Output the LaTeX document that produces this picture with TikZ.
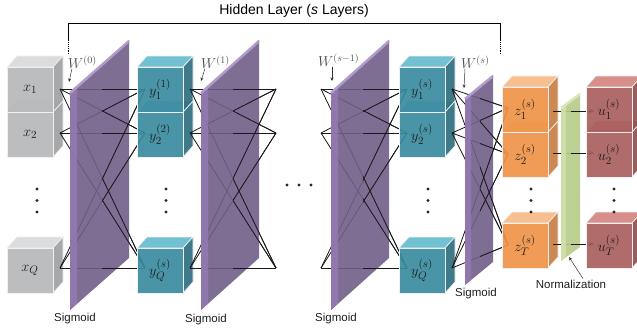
\documentclass[tikz,border=0pt]{standalone}
\usepackage{fontspec}
\setmainfont{Liberation Sans}
\usetikzlibrary{arrows.meta}
\definecolor{grayfront}{HTML}{B6B7B9}
\definecolor{graytop}{HTML}{D8D9DB}
\definecolor{grayside}{HTML}{A0A1A3}
\definecolor{tealfront}{HTML}{3B8BA0}
\definecolor{tealtop}{HTML}{66BCCF}
\definecolor{tealside}{HTML}{2E6F80}
\definecolor{orgfront}{HTML}{EF9448}
\definecolor{orgtop}{HTML}{F8BB86}
\definecolor{orgside}{HTML}{C97F44}
\definecolor{redfront}{HTML}{A95F5E}
\definecolor{redtop}{HTML}{D5847F}
\definecolor{redside}{HTML}{8F4F4E}
\definecolor{purmain}{HTML}{715E88}
\definecolor{purstrip}{HTML}{9279B0}
\definecolor{purtop}{HTML}{B5A0CF}
\definecolor{grnmain}{HTML}{B6CB88}
\definecolor{grnstrip}{HTML}{D0E1A9}
\definecolor{grntop}{HTML}{DDE9C2}
\definecolor{txt}{HTML}{1E1E1E}
\tikzset{
  cubeedge/.style={draw=white!88!gray, line width=0.7pt, fill opacity=0.92},
  conn/.style={draw=black!90, line width=0.8pt},
  panelface/.style={fill opacity=0.9},
  lbl/.style={text=txt, font=\fontsize{15}{17}\selectfont, inner sep=0pt},
  wlbl/.style={text=black!70, font=\fontsize{14}{16}\selectfont, inner sep=0pt, anchor=west},
  capt/.style={text=txt, font=\fontsize{11.5}{13}\selectfont, inner sep=0pt},
  warrow/.style={-{Stealth[length=3.5pt,width=3pt]}, line width=0.5pt, black!80},
  vdot/.style={circle, fill=black!85, inner sep=0pt, minimum size=3.4pt},
  normarrow/.style={-{Stealth[length=5pt,width=4pt]}, line width=0.8pt, black!90},
}
\newcommand\mkcube[3]{%
  \filldraw[cubeedge, fill=#3top] (#1,#2) -- (#1+10,#2-11) -- (#1+56,#2-11) -- (#1+46,#2) -- cycle;
  \filldraw[cubeedge, fill=#3side] (#1+46,#2) -- (#1+56,#2-11) -- (#1+56,#2+34) -- (#1+46,#2+45) -- cycle;
  \filldraw[cubeedge, fill=#3front] (#1,#2) rectangle (#1+46,#2+45);
}
% #1 L, #2 R, #3 yLtop, #4 yRtop, #5 height, #6 strip, #7 colour prefix
\newcommand\mkpanel[7]{%
  \fill[panelface, #7main] (#1,#3) -- (#2,#4) -- (#2,#4+#5) -- (#1,#3+#5) -- cycle;
  \fill[panelface, #7strip] (#1,#3) -- ({#1+#6},{#3-#6*(#3-#4)/(#2-#1)}) -- ({#1+#6},{#3-#6*(#3-#4)/(#2-#1)+#5}) -- (#1,#3+#5) -- cycle;
  \draw[#7top, line width=2.6pt, opacity=0.9] (#1,#3+1) -- (#2,#4+1);
}
\begin{document}
\begin{tikzpicture}[x=1pt,y=-1pt]
\useasboundingbox (0,0) rectangle (637,335);

% bracket and title
\node[font=\fontsize{14}{16}\selectfont, inner sep=0pt] (title) at (294,11) {Hidden Layer (\textit{s} Layers)};
\coordinate (brL) at (68,23);
\coordinate (brR) at (500,23);
\coordinate (brL1) at (68,40);
\coordinate (brL2) at (68,55);
\coordinate (brR1) at (500,40);
\coordinate (brR2) at (500,55);
\draw[line width=0.9pt] (brL1) -- (brL) -- (brR) -- (brR1);
\draw[line width=0.9pt, densely dotted] (brL1) -- (brL2);
\draw[line width=0.9pt, densely dotted] (brR1) -- (brR2);

% coordinates
\foreach \i/\yy in {1/89,2/133,3/268} {
  \coordinate (a\i) at (60,\yy);
  \coordinate (b\i) at (145,\yy);
  \coordinate (c\i) at (190,\yy);
  \coordinate (d\i) at (276,\yy);
  \coordinate (e\i) at (321,\yy);
  \coordinate (f\i) at (407,\yy);
  \coordinate (g\i) at (452,\yy);
}
\foreach \i/\yy in {1/108,2/154,3/245} {
  \coordinate (h\i) at (508,\yy);
}
\foreach \i/\yy in {1/111,2/153,3/244} {
  \coordinate (p\i) at (553,\yy);
  \coordinate (q\i) at (594,\yy);
}

% input cubes
\mkcube{7}{112}{gray}
\mkcube{7}{67}{gray}
\mkcube{7}{248}{gray}
\node[lbl] (x1) at (30,89.5) {$x_1$};
\node[lbl] (x2) at (30,134.5) {$x_2$};
\node[lbl] (xQ) at (30,270.5) {$x_Q$};

% fan 1
\foreach \i in {1,2,3} \foreach \j in {1,2,3} \draw[conn] (a\i) -- (b\j);
\mkpanel{70}{129}{92}{40}{218}{7}{pur}
\begin{scope}
  \clip (102,0) rectangle (180,335);
  \foreach \i in {1,2,3} \foreach \j in {1,2,3} \draw[conn] (a\i) -- (b\j);
\end{scope}

% teal column 1
\mkcube{137}{112}{teal}
\mkcube{137}{67}{teal}
\mkcube{137}{248}{teal}
\node[lbl] (y11) at (160,89.5) {$y_1^{(1)}$};
\node[lbl] (y12) at (160,134.5) {$y_2^{(2)}$};
\node[lbl] (y1Q) at (160,270.5) {$y_Q^{(s)}$};

% fan 2
\foreach \i in {1,2,3} \foreach \j in {1,2,3} \draw[conn] (c\i) -- (d\j);
\mkpanel{201}{259}{92}{40}{218}{7}{pur}
\begin{scope}
  \clip (233,0) rectangle (300,335);
  \foreach \i in {1,2,3} \foreach \j in {1,2,3} \draw[conn] (c\i) -- (d\j);
\end{scope}

% fan 3
\foreach \i in {1,2,3} \foreach \j in {1,2,3} \draw[conn] (e\i) -- (f\j);
\mkpanel{331}{389}{92}{40}{218}{7}{pur}
\begin{scope}
  \clip (363,0) rectangle (420,335);
  \foreach \i in {1,2,3} \foreach \j in {1,2,3} \draw[conn] (e\i) -- (f\j);
\end{scope}

% teal column 2
\mkcube{399}{112}{teal}
\mkcube{399}{67}{teal}
\mkcube{399}{248}{teal}
\node[lbl] (y21) at (422,89.5) {$y_1^{(s)}$};
\node[lbl] (y22) at (422,134.5) {$y_2^{(s)}$};
\node[lbl] (y2Q) at (422,270.5) {$y_Q^{(s)}$};

% fan 4
\foreach \i in {1,2,3} \foreach \j in {1,2,3} \draw[conn] (g\i) -- (h\j);
\mkpanel{465}{493}{98}{75}{187}{6}{pur}
\begin{scope}
  \clip (480,0) rectangle (520,335);
  \foreach \i in {1,2,3} \foreach \j in {1,2,3} \draw[conn] (g\i) -- (h\j);
\end{scope}

% orange column
\mkcube{502}{132}{org}
\mkcube{502}{87}{org}
\mkcube{502}{223}{org}
\node[lbl] (z1) at (525,109.5) {$z_1^{(s)}$};
\node[lbl] (z2) at (525,154.5) {$z_2^{(s)}$};
\node[lbl] (zT) at (525,245.5) {$z_T^{(s)}$};

% normalization arrows
\foreach \i in {1,2,3} \draw[normarrow] (p\i) -- (q\i);
\mkpanel{561}{580}{107}{93}{154}{5}{grn}
\begin{scope}
  \clip (571,0) rectangle (637,335);
  \foreach \i in {1,2,3} \draw[normarrow] (p\i) -- (q\i);
\end{scope}

% red column
\mkcube{586}{132}{red}
\mkcube{586}{87}{red}
\mkcube{586}{223}{red}
\node[lbl] (u1) at (609,109.5) {$u_1^{(s)}$};
\node[lbl] (u2) at (609,154.5) {$u_2^{(s)}$};
\node[lbl] (uT) at (609,245.5) {$u_T^{(s)}$};

% vertical dots
\foreach \n/\xx in {gx/37,ty/166,tz/428,oz/531,ru/614} {
  \node[vdot] (\n a) at (\xx,189) {};
  \node[vdot] (\n b) at (\xx,200.5) {};
  \node[vdot] (\n c) at (\xx,212) {};
}
% horizontal dots
\node[vdot] (hd1) at (287,185) {};
\node[vdot] (hd2) at (299,185) {};
\node[vdot] (hd3) at (311,185) {};

% weight labels
\node[wlbl] (W0) at (68,62) {$W^{(0)}$};
\node[wlbl] (W1) at (201,62) {$W^{(1)}$};
\node[wlbl] (Ws1) at (318,60) {$W^{(s-1)}$};
\node[wlbl] (Ws) at (461,62) {$W^{(s)}$};
\coordinate (w0t) at (69,82);
\coordinate (w1t) at (201,81);
\coordinate (ws1t) at (332,81);
\coordinate (wst) at (464,88);
\draw[warrow] (W0.south west) ++(4,0) coordinate (w0s) (w0s) -- (w0t);
\draw[warrow] (W1.south west) ++(4,0) coordinate (w1s) (w1s) -- (w1t);
\draw[warrow] (Ws1.south west) ++(14,0) coordinate (ws1s) (ws1s) -- (ws1t);
\draw[warrow] (Ws.south west) ++(4,0) coordinate (wss) (wss) -- (wst);

% captions
\node[capt] (sg1) at (75,319) {Sigmoid};
\node[capt] (sg2) at (206,320) {Sigmoid};
\node[capt] (sg3) at (336,319) {Sigmoid};
\node[capt] (sg4) at (476,294) {Sigmoid};
\node[capt] (norm) at (571,284) {Normalization};
\coordinate (normt) at (569,257);
\draw[warrow] (norm.north) ++(12,-1) coordinate (norms) (norms) -- (normt);
\end{tikzpicture}
\end{document}
